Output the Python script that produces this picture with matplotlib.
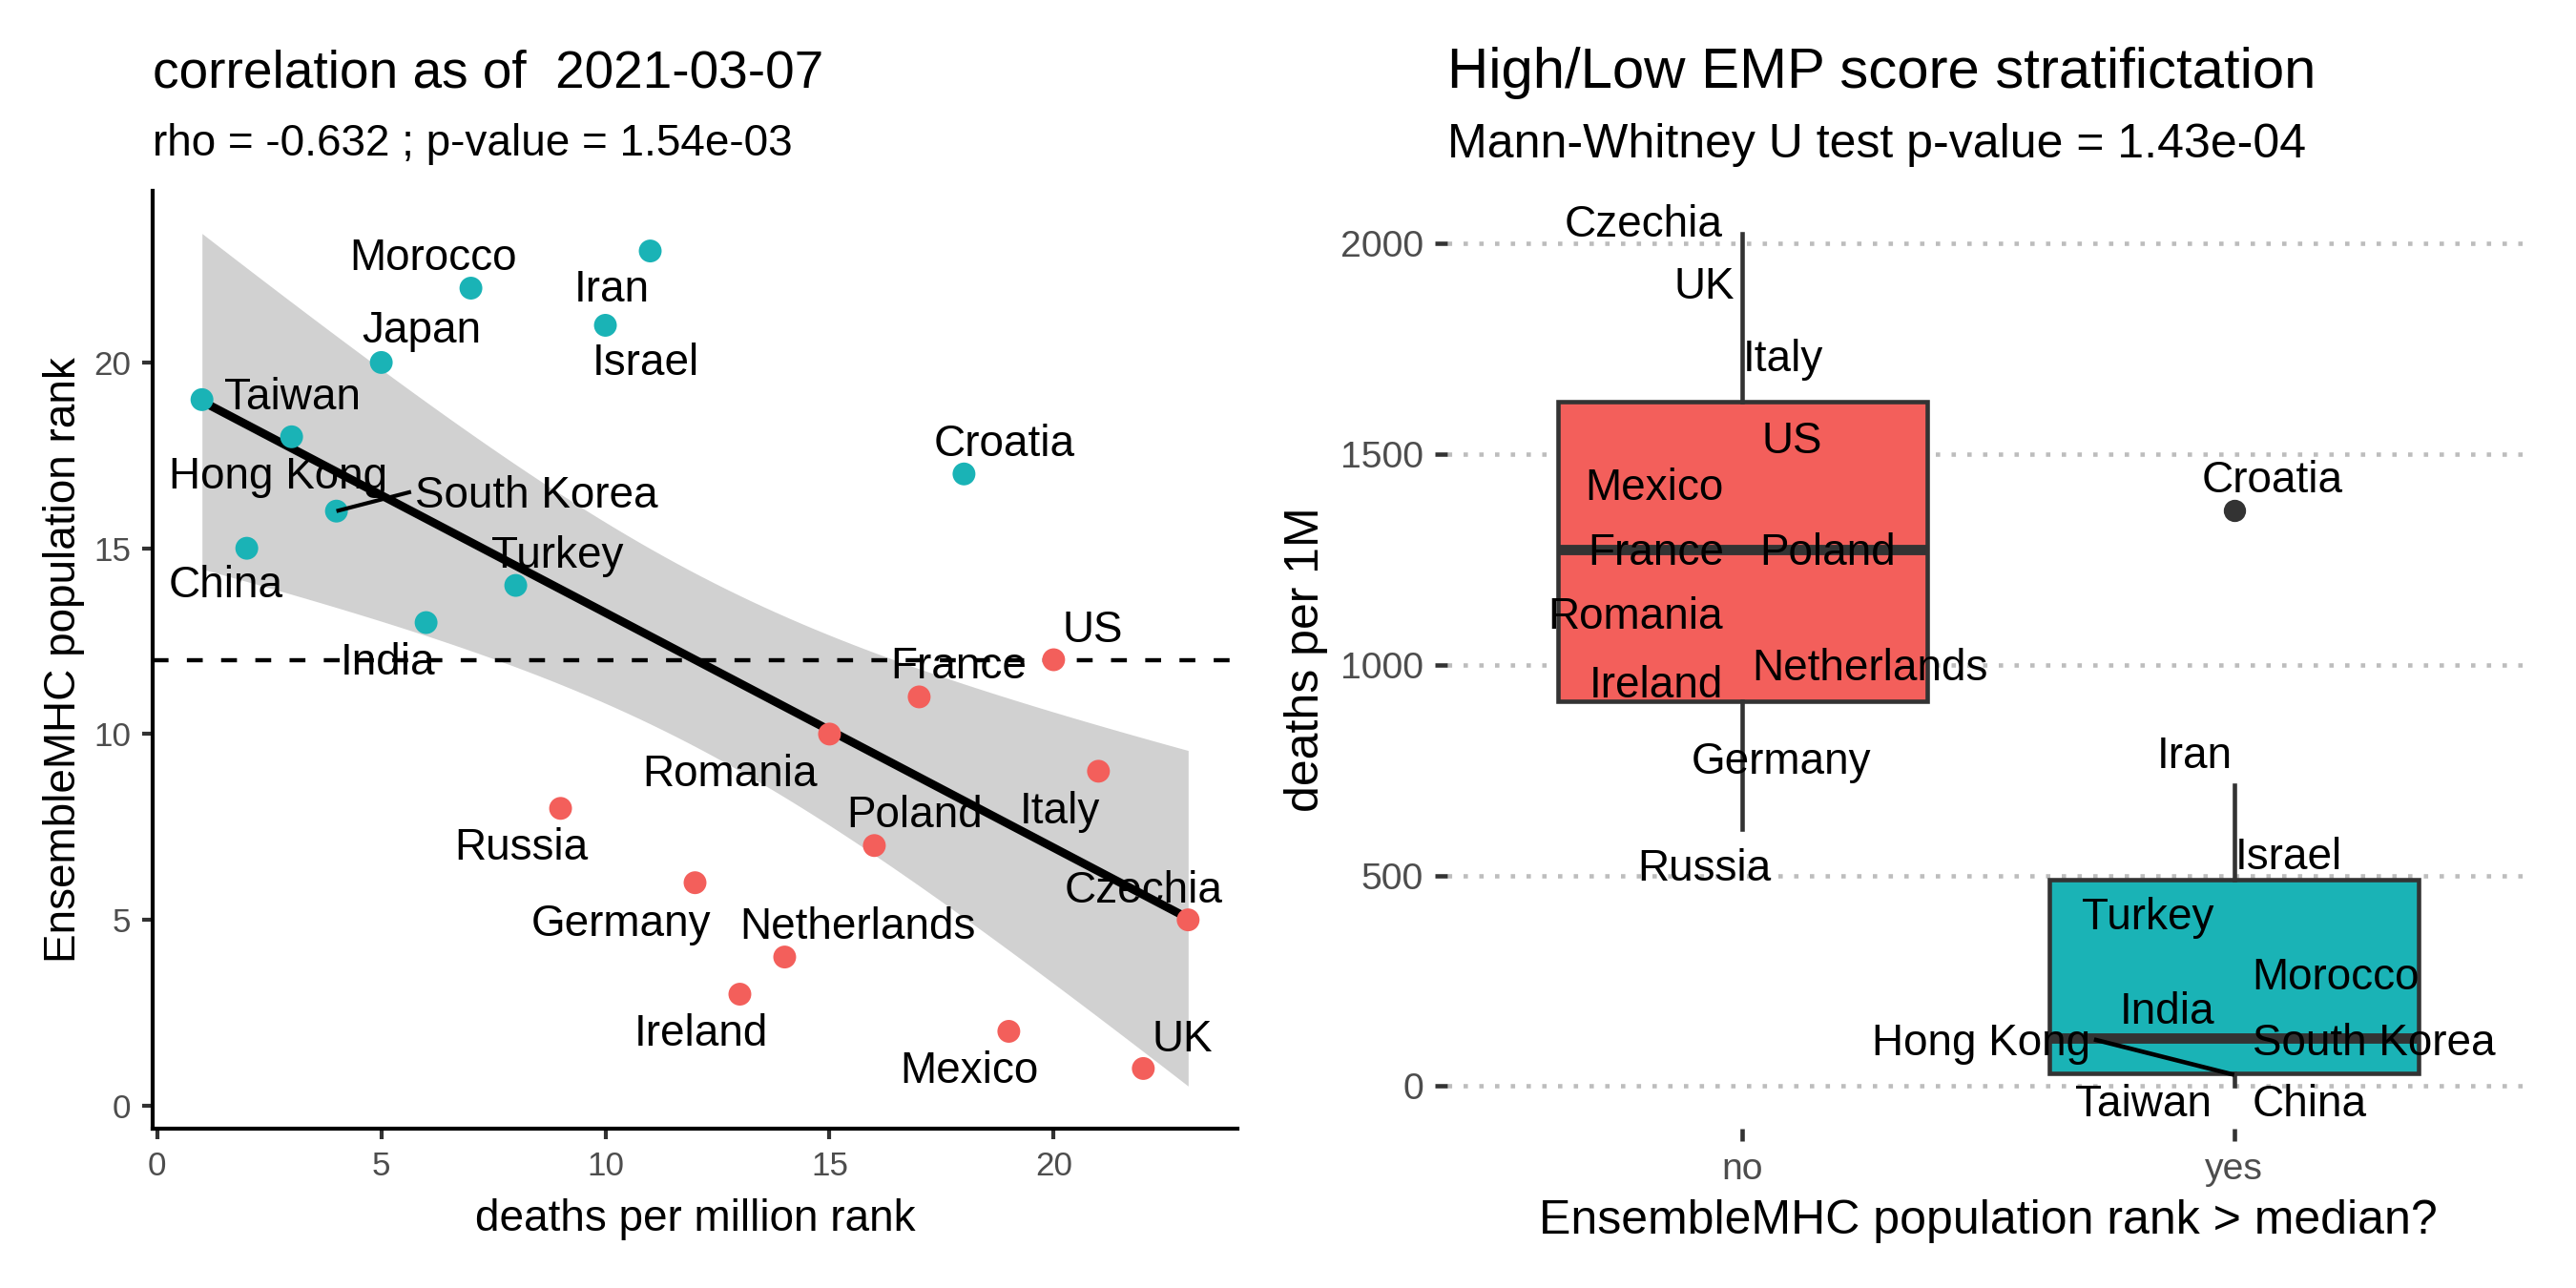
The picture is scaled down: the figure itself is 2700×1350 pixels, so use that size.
import numpy as np
import matplotlib
matplotlib.use("Agg")
import matplotlib.pyplot as plt
from matplotlib.transforms import offset_copy

plt.rcParams['font.family'] = ['Liberation Sans', 'DejaVu Sans']

# ---------------- data ----------------
countries = ["Taiwan", "China", "Hong Kong", "South Korea", "Japan", "India", "Morocco",
             "Turkey", "Russia", "Israel", "Iran", "Germany", "Ireland", "Netherlands",
             "Romania", "Poland", "France", "Croatia", "Mexico", "US", "Italy", "UK", "Czechia"]
death_rank = [1, 2, 3, 4, 5, 6, 7, 8, 9, 10, 11, 12, 13, 14, 15, 16, 17, 18, 19, 20, 21, 22, 23]
mhc_rank = [19, 15, 18, 16, 20, 13, 22, 14, 8, 21, 23, 6, 3, 4, 10, 7, 11, 17, 2, 12, 9, 1, 5]
deaths_per_1m = [0.4, 3.3, 27, 32, 65, 114, 235, 345, 611, 635, 715, 870, 895, 920,
                 1090, 1197, 1350, 1366, 1470, 1600, 1700, 1860, 2023]
group_names = ["no", "yes"]
show_right_label = [True, True, True, True, False, True, True, True, True, True, True, True,
                    True, True, True, True, True, True, True, True, True, True, True]

left_title = "correlation as of  2021-03-07"
left_subtitle = "rho = -0.632 ; p-value = 1.54e-03"
right_title = "High/Low EMP score stratifictation"
right_subtitle = "Mann-Whitney U test p-value = 1.43e-04"
left_xticks = [0, 5, 10, 15, 20]
left_yticks = [0, 5, 10, 15, 20]
right_yticks = [0, 500, 1000, 1500, 2000]

# label placement (repel-like offsets from each data point)
left_dx = [2.02, -0.47, -0.30, 4.46, 0.89, -0.85, -0.85, 0.92, -0.88, 0.91, -0.86, -1.65,
           -0.86, 1.63, -2.23, 0.90, 0.87, 0.89, -0.89, 0.86, -0.86, 0.87, -0.99]
left_dy = [0.16, -0.90, -0.96, 0.52, 0.97, -0.98, 0.92, 0.90, -0.95, -0.92, -0.94, -1.00,
           -0.96, 0.90, -0.98, 0.91, 0.93, 0.90, -0.97, 0.89, -0.97, 0.89, 0.88]
right_dx = [-0.185, 0.153, -0.515, 0.284, 0.0, -0.136, 0.207, -0.176, -0.078, 0.110, -0.081,
            0.080, -0.176, 0.259, -0.217, 0.174, -0.176, 0.078, -0.180, 0.100, 0.082, -0.078, -0.202]
right_dy = [-34, -37, 84, 79, 0, 71, 31, 64, -86, -82, 78, -92, 65, 80, 32, 77, -77, 79,
            -42, -61, 33, 45, 30]
left_segment = ["South Korea"]
right_segment = ["Hong Kong"]

# ---------------- style ----------------
RED = "#F35F5B"
TEAL = "#1AB3B6"
EDGE = "#333333"
TICKC = "#4D4D4D"
W, H = 2700, 1350

fig = plt.figure(figsize=(9, 4.5), dpi=300)
ax1 = fig.add_axes([160 / W, 1 - 1183 / H, (1297 - 160) / W, (1183 - 200) / H])
ax2 = fig.add_axes([1517 / W, 1 - 1183 / H, (2651 - 1517) / W, (1183 - 200) / H])

x = np.array(death_rank, float)
y = np.array(mhc_rank, float)
dpm = np.array(deaths_per_1m, float)
median_rank = np.median(y)
is_high = y > median_rank
colors = [TEAL if h else RED for h in is_high]

# ---------------- left panel ----------------
n = len(x)
xbar, ybar = x.mean(), y.mean()
sxx = np.sum((x - xbar) ** 2)
slope = np.sum((x - xbar) * (y - ybar)) / sxx
intercept = ybar - slope * xbar
resid = y - (intercept + slope * x)
s = np.sqrt(np.sum(resid ** 2) / (n - 2))
t_crit = 2.0796  # t(0.975, df=21)
xs = np.linspace(x.min(), x.max(), 80)
fit = intercept + slope * xs
se = s * np.sqrt(1 / n + (xs - xbar) ** 2 / sxx)
lo, hi = fit - t_crit * se, fit + t_crit * se

ax1.fill_between(xs, lo, hi, color="#999999", alpha=0.45, lw=0, zorder=1)
ax1.axhline(median_rank, color="black", lw=1.05, dashes=(3.8, 4.4), zorder=2)
ax1.plot(xs, fit, color="black", lw=2.1, zorder=3, solid_capstyle="butt")
ax1.scatter(x, y, s=33, c=colors, lw=0, zorder=4)

xr = x.max() - x.min()
ax1.set_xlim(x.min() - 0.05 * xr, x.max() + 0.05 * xr)
ymin = min(y.min(), lo.min())
ymax = max(y.max(), hi.max())
yr = ymax - ymin
ax1.set_ylim(ymin - 0.05 * yr, ymax + 0.05 * yr)
ax1.set_xticks(left_xticks)
ax1.set_yticks(left_yticks)
for sp in ["top", "right"]:
    ax1.spines[sp].set_visible(False)
for sp in ["left", "bottom"]:
    ax1.spines[sp].set_linewidth(1.0)
    ax1.spines[sp].set_color("black")
ax1.tick_params(axis="both", length=2.7, width=1.0, color=EDGE, labelsize=8.4,
                labelcolor=TICKC, pad=2.8)

cap_shift = -0.716 * 11 / 2  # points, put cap-centre on the anchor
tr1 = offset_copy(ax1.transData, fig=fig, y=cap_shift, units="points")
left_texts = {}
for i, c in enumerate(countries):
    t = ax1.text(x[i] + left_dx[i], y[i] + left_dy[i], c, fontsize=11, ha="center",
                 va="baseline", transform=tr1, zorder=6)
    left_texts[c] = t

# ---------------- right panel ----------------
data_no = dpm[~is_high]
data_yes = dpm[is_high]
bp = ax2.boxplot([data_no, data_yes], positions=[0, 1], widths=0.75, whis=1.5,
                 patch_artist=True, showcaps=False,
                 boxprops=dict(edgecolor=EDGE, linewidth=1.1),
                 whiskerprops=dict(color=EDGE, linewidth=1.1),
                 medianprops=dict(color=EDGE, linewidth=2.6, solid_capstyle="butt"),
                 flierprops=dict(marker="o", markerfacecolor=EDGE, markeredgecolor=EDGE,
                                 markersize=4.6),
                 zorder=3)
for patch, col in zip(bp["boxes"], [RED, TEAL]):
    patch.set_facecolor(col)

ax2.set_xlim(-0.6, 1.6)
dr = dpm.max() - dpm.min()
ax2.set_ylim(dpm.min() - 0.05 * dr, dpm.max() + 0.05 * dr)
ax2.set_yticks(right_yticks)
ax2.set_xticks([0, 1])
ax2.set_xticklabels(group_names)
for sp in ax2.spines.values():
    sp.set_visible(False)
ax2.yaxis.grid(True, color="#BDBDBD", lw=1.1, dashes=(1.0, 2.6))
ax2.set_axisbelow(True)
ax2.tick_params(axis="both", length=3.2, width=1.1, color=EDGE, labelsize=9.4,
                labelcolor=TICKC, pad=2.8)

tr2 = offset_copy(ax2.transData, fig=fig, y=cap_shift, units="points")
group_idx = is_high.astype(int)
right_texts = {}
for i, c in enumerate(countries):
    if not show_right_label[i]:
        continue
    t = ax2.text(group_idx[i] + right_dx[i], dpm[i] + right_dy[i], c, fontsize=11,
                 ha="center", va="baseline", transform=tr2, zorder=6)
    right_texts[c] = t

# ---------------- repel-style segments ----------------
fig.canvas.draw()
renderer = fig.canvas.get_renderer()


def add_segment(ax, txt, px, py, lw):
    bb = txt.get_window_extent(renderer)
    pt = ax.transData.transform((px, py))
    cy = ax.transData.transform((0, txt.get_position()[1]))[1]
    pad = 4
    ex = bb.x0 - pad if pt[0] < bb.x0 else bb.x1 + pad
    end = ax.transData.inverted().transform((ex, cy))
    ax.plot([px, end[0]], [py, end[1]], color="black", lw=lw, zorder=5,
            solid_capstyle="butt")


for c in left_segment:
    i = countries.index(c)
    add_segment(ax1, left_texts[c], x[i], y[i], 1.0)
for c in right_segment:
    i = countries.index(c)
    add_segment(ax2, right_texts[c], group_idx[i], dpm[i], 1.1)

# ---------------- titles & axis titles ----------------
fig.text(160 / W, 1 - 91.5 / H, left_title, fontsize=13.2, ha="left", va="baseline")
fig.text(160 / W, 1 - 163 / H, left_subtitle, fontsize=11, ha="left", va="baseline")
fig.text(1517 / W, 1 - 91.5 / H, right_title, fontsize=14.4, ha="left", va="baseline")
fig.text(1517 / W, 1 - 165 / H, right_subtitle, fontsize=12, ha="left", va="baseline")

fig.text((160 + 1297) / 2 / W, 1 - 1290 / H, "deaths per million rank", fontsize=11,
         ha="center", va="baseline")
fig.text((1517 + 2651) / 2 / W, 1 - 1293 / H, "EnsembleMHC population rank > median?",
         fontsize=12, ha="center", va="baseline")
fig.text(79 / W, 1 - (200 + 1183) / 2 / H, "EnsembleMHC population rank", fontsize=11,
         rotation=90, rotation_mode="anchor", ha="center", va="baseline")
fig.text(1382 / W, 1 - (200 + 1183) / 2 / H, "deaths per 1M", fontsize=12,
         rotation=90, rotation_mode="anchor", ha="center", va="baseline")

fig.savefig("out.png", dpi=300, facecolor="white")
